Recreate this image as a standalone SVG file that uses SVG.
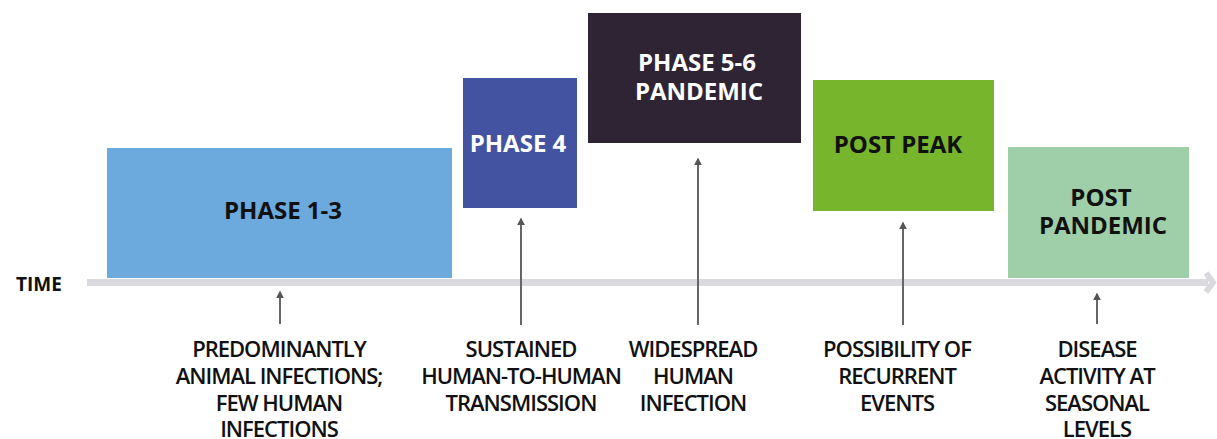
<svg xmlns="http://www.w3.org/2000/svg" width="1217" height="439" viewBox="0 0 1217 439">
<style>
.box{font-family:"Open Sans","Noto Sans",sans-serif;font-weight:700;font-size:24px;text-anchor:middle}
.lbl{font-family:"Open Sans","Noto Sans",sans-serif;font-weight:600;font-size:22px;text-anchor:middle;fill:#111;letter-spacing:-1px}
.arr{stroke:#666;stroke-width:2;fill:none}
</style>
<defs>
<marker id="ah" viewBox="0 0 10 10" refX="8" refY="5" markerWidth="8" markerHeight="8" orient="auto" markerUnits="userSpaceOnUse">
<path d="M0,0 L10,5 L0,10 Z" fill="#555"/>
</marker>
</defs>
<rect width="1217" height="439" fill="#fff"/>
<g id="timeline">
<rect x="87" y="279" width="1121" height="7" fill="#D9D9DE"/>
<polyline points="1206,273 1213,282.5 1206,292" fill="none" stroke="#D9D9DE" stroke-width="6"/>
<text x="16" y="291" font-family="'Open Sans',sans-serif" font-weight="700" font-size="19" fill="#111">TIME</text>
</g>
<g id="phase13">
<rect x="107" y="148" width="345" height="130" fill="#6CA9DC"/>
<text class="box" x="283" y="219" fill="#111">PHASE 1-3</text>
</g>
<g id="phase4">
<rect x="463" y="78" width="114" height="130" fill="#4453A1"/>
<text class="box" x="518" y="152" fill="#fff">PHASE 4</text>
</g>
<g id="phase56">
<rect x="588" y="13" width="213" height="130" fill="#2F2433"/>
<text class="box" x="697" y="71" fill="#fff">PHASE 5-6</text>
<text class="box" x="699" y="100" fill="#fff">PANDEMIC</text>
</g>
<g id="postpeak">
<rect x="813" y="80" width="181" height="131" fill="#77B52C"/>
<text class="box" x="898" y="153" fill="#111">POST PEAK</text>
</g>
<g id="postpandemic">
<rect x="1008" y="147" width="181" height="131" fill="#9FCFA8"/>
<text class="box" x="1101" y="206" fill="#111">POST</text>
<text class="box" x="1103" y="234" fill="#111">PANDEMIC</text>
</g>
<g id="connectors">
<line class="arr" x1="280" y1="324" x2="280" y2="292" marker-end="url(#ah)"/>
<line class="arr" x1="521" y1="325" x2="521" y2="219" marker-end="url(#ah)"/>
<line class="arr" x1="698" y1="325" x2="698" y2="159" marker-end="url(#ah)"/>
<line class="arr" x1="903" y1="325" x2="903" y2="223" marker-end="url(#ah)"/>
<line class="arr" x1="1097" y1="324" x2="1097" y2="294" marker-end="url(#ah)"/>
</g>
<g id="labels">
<text class="lbl" x="279" y="357">PREDOMINANTLY</text>
<text class="lbl" x="279" y="384">ANIMAL INFECTIONS;</text>
<text class="lbl" x="279" y="411">FEW HUMAN</text>
<text class="lbl" x="279" y="437">INFECTIONS</text>
<text class="lbl" x="521" y="357">SUSTAINED</text>
<text class="lbl" x="521" y="384">HUMAN-TO-HUMAN</text>
<text class="lbl" x="521" y="411">TRANSMISSION</text>
<text class="lbl" x="693" y="357">WIDESPREAD</text>
<text class="lbl" x="693" y="384">HUMAN</text>
<text class="lbl" x="693" y="411">INFECTION</text>
<text class="lbl" x="897" y="357">POSSIBILITY OF</text>
<text class="lbl" x="897" y="384">RECURRENT</text>
<text class="lbl" x="897" y="411">EVENTS</text>
<text class="lbl" x="1097" y="357">DISEASE</text>
<text class="lbl" x="1097" y="384">ACTIVITY AT</text>
<text class="lbl" x="1097" y="411">SEASONAL</text>
<text class="lbl" x="1097" y="437">LEVELS</text>
</g>
</svg>
